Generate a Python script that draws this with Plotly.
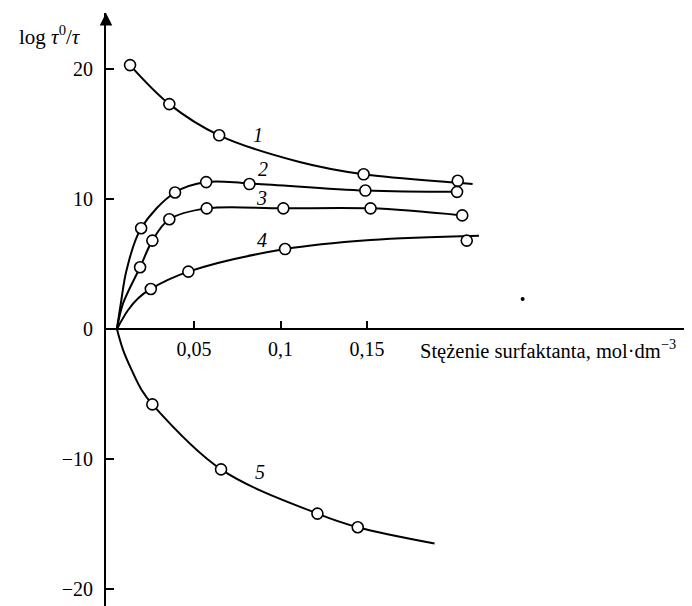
import plotly.graph_objects as go

# ---------------- data ----------------
# curve 1
c1_mx = [0.013, 0.0357, 0.0645, 0.148, 0.2024]
c1_my = [20.3, 17.3, 14.9, 11.9, 11.4]
c1_lx = [0.013, 0.0357, 0.0645, 0.111, 0.148, 0.2024, 0.211]
c1_ly = [20.3, 17.3, 14.9, 12.85, 11.9, 11.25, 11.15]
# curve 2
c2_mx = [0.0194, 0.039, 0.057, 0.082, 0.149, 0.202]
c2_my = [7.75, 10.5, 11.3, 11.15, 10.65, 10.55]
c2_lx = [0.0054, 0.0077, 0.011, 0.0194, 0.039, 0.057, 0.082, 0.149, 0.202]
c2_ly = [0.0, 1.98, 4.54, 7.75, 10.5, 11.3, 11.2, 10.65, 10.55]
# curve 3
c3_mx = [0.0188, 0.0259, 0.0357, 0.0573, 0.1016, 0.152, 0.205]
c3_my = [4.75, 6.8, 8.44, 9.28, 9.28, 9.28, 8.74]
c3_lx = [0.0054, 0.009, 0.0188, 0.0259, 0.0357, 0.0573, 0.1016, 0.152, 0.205]
c3_ly = [0.0, 1.98, 4.75, 6.8, 8.44, 9.28, 9.28, 9.28, 8.74]
# curve 4
c4_mx = [0.025, 0.0467, 0.1026, 0.2076]
c4_my = [3.08, 4.41, 6.15, 6.8]
c4_lx = [0.0054, 0.0119, 0.0177, 0.025, 0.0467, 0.1026, 0.152, 0.2147]
c4_ly = [0.0, 1.46, 2.36, 3.08, 4.41, 6.15, 6.85, 7.18]
# curve 5
c5_mx = [0.0259, 0.0656, 0.1213, 0.1446]
c5_my = [-5.8, -10.8, -14.2, -15.25]
c5_lx = [0.0054, 0.009, 0.0139, 0.0197, 0.0259, 0.0656, 0.1213, 0.1446, 0.189]
c5_ly = [0.0, -1.62, -3.15, -4.69, -5.8, -10.8, -14.2, -15.25, -16.5]

curve_labels = ["1", "2", "3", "4", "5"]
label_x = [0.0869, 0.0898, 0.089, 0.089, 0.088]
label_y = [14.9, 12.3, 10.05, 6.85, -10.98]

speck_x = [0.2399]
speck_y = [2.31]

x_tickvals = [0.05, 0.1, 0.15]
x_ticktext = ["0,05", "0,1", "0,15"]
y_tickvals = [-20, -10, 0, 10, 20]
y_ticktext = ["\u221220", "\u221210", "0", "10", "20"]

X_RANGE = [-0.0009, 0.3378]
Y_RANGE = [-21.31, 24.31]

FONT = "Liberation Serif"
# the page body has an 8px margin, so the figure is drawn 8px smaller and shifted
OFF = 8
W, H = 692 - OFF, 606 - OFF


def px(p):
    return (p - OFF) / W


def py(p):
    return 1 - (p - OFF) / H


fig = go.Figure()

lines = [(c1_lx, c1_ly), (c2_lx, c2_ly), (c3_lx, c3_ly), (c4_lx, c4_ly), (c5_lx, c5_ly)]
marks = [(c1_mx, c1_my), (c2_mx, c2_my), (c3_mx, c3_my), (c4_mx, c4_my), (c5_mx, c5_my)]

for lx, ly in lines:
    fig.add_trace(go.Scatter(x=lx, y=ly, mode="lines",
                             line=dict(color="black", width=2, shape="spline", smoothing=1.0),
                             hoverinfo="skip", showlegend=False, cliponaxis=False))
for mx, my in marks:
    fig.add_trace(go.Scatter(x=mx, y=my, mode="markers",
                             marker=dict(symbol="circle", size=11, color="white",
                                         line=dict(color="black", width=1.6)),
                             showlegend=False, cliponaxis=False))

fig.add_trace(go.Scatter(x=speck_x, y=speck_y, mode="markers",
                         marker=dict(symbol="circle", size=4, color="black"),
                         showlegend=False))

# arrow head on top of y axis
fig.add_trace(go.Scatter(x=[X_RANGE[0]], y=[Y_RANGE[1]], mode="markers",
                         marker=dict(symbol="arrow-up", size=12.5, color="black",
                                     line=dict(width=0)),
                         showlegend=False, cliponaxis=False, hoverinfo="skip"))

for t, x, y in zip(curve_labels, label_x, label_y):
    fig.add_annotation(x=x, y=y, text="<i>" + t + "</i>", showarrow=False,
                       font=dict(family=FONT, size=20, color="black"))

fig.add_annotation(xref="paper", yref="paper", x=px(50), y=py(36),
                   text="log <i>\u03c4</i><sup>0</sup>/<i>\u03c4</i>", showarrow=False,
                   xanchor="center", yanchor="middle",
                   font=dict(family=FONT, size=21, color="black"))
fig.add_annotation(xref="paper", yref="paper", x=px(418), y=py(349),
                   text="St\u0119\u017cenie surfaktanta, mol\u00b7dm<sup>\u22123</sup>",
                   showarrow=False, xanchor="left", yanchor="middle",
                   font=dict(family=FONT, size=20.5, color="black"))

fig.update_layout(
    width=W, height=H,
    margin=dict(l=0, r=0, t=0, b=0),
    paper_bgcolor="white", plot_bgcolor="white",
    font=dict(family=FONT, size=20, color="black"),
    xaxis=dict(domain=[px(106), 1], range=X_RANGE, anchor="free", position=py(329),
               showline=True, linewidth=2, linecolor="black",
               ticks="inside", ticklen=7, tickwidth=1.5, tickcolor="black",
               tickvals=x_tickvals, ticktext=x_ticktext, ticklabelstandoff=2,
               showgrid=False, zeroline=False),
    yaxis=dict(domain=[0, py(13)], range=Y_RANGE, anchor="x",
               showline=True, linewidth=2, linecolor="black",
               ticks="inside", ticklen=8, tickwidth=1.5, tickcolor="black",
               tickvals=y_tickvals, ticktext=y_ticktext, ticklabelstandoff=7,
               showgrid=False, zeroline=False),
)

fig.write_html("out.html")
